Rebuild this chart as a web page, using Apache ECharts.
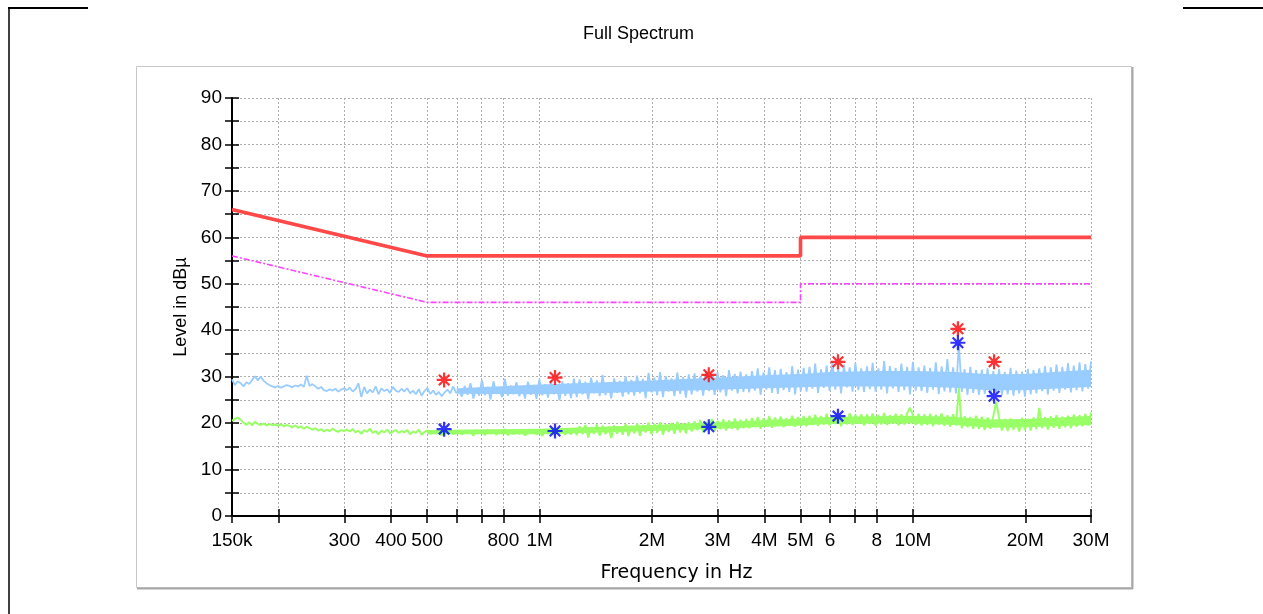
<!DOCTYPE html>
<html>
<head>
<meta charset="utf-8">
<script src="https://cdn.jsdelivr.net/npm/echarts@6/dist/echarts.min.js"></script>
<style>
html,body{margin:0;padding:0;background:#fff;}
#chart{width:1263px;height:614px;}
</style>
</head>
<body>
<div id="chart"></div>
<script>
// ---------- axis ticks ----------
const tickFreqs = [150e3,200e3,300e3,400e3,500e3,600e3,700e3,800e3,1e6,2e6,3e6,4e6,5e6,6e6,7e6,8e6,10e6,20e6,30e6];
const labelFreqs = [150e3,300e3,400e3,500e3,800e3,1e6,2e6,3e6,4e6,5e6,6e6,8e6,10e6,20e6,30e6];
const labelTexts = ['150k','300','400','500','800','1M','2M','3M','4M','5M','6','8','10M','20M','30M'];

// ---------- limit lines ----------
const qpLimitFreqs = [150e3, 500e3, 5e6, 5e6, 30e6];
const qpLimitLevels = [66, 56, 56, 60, 60];
const avLimitFreqs = [150e3, 500e3, 5e6, 5e6, 30e6];
const avLimitLevels = [56, 46, 46, 50, 50];

// ---------- sweep (300 points, 150 kHz .. 30 MHz) ----------
const sweepStart = 150e3, sweepStop = 30e6, sweepPoints = 300;

const peakLevels = [
 29.4,28.2,29.0,28.6,27.9,28.8,28.4,29.3,30.1,29.2,30.0,29.1,28.6,28.2,27.9,27.7,28.0,27.6,27.9,28.2,
 28.0,27.7,28.1,27.9,28.3,27.8,30.2,28.0,28.4,27.9,27.4,27.8,27.1,26.9,27.3,27.0,27.4,26.8,27.2,27.5,
 27.1,27.6,26.8,27.3,28.6,25.6,27.8,26.4,27.2,26.6,27.9,26.2,27.5,26.9,27.3,26.5,27.8,27.0,26.7,27.4,
 26.8,27.5,26.4,27.0,26.2,27.3,25.9,26.9,27.6,26.3,27.0,26.1,26.7,25.8,26.6,27.2,26.4,27.9,26.5,27.0,
 25.7,28.0,26.1,28.6,25.3,27.5,25.9,29.3,26.0,27.8,25.1,29.0,26.3,27.3,25.6,29.5,25.9,28.1,26.2,28.8,
 25.8,27.9,25.3,28.9,26.1,28.2,25.2,29.4,26.0,28.4,25.5,29.2,26.2,28.0,24.9,29.0,25.9,28.6,25.4,29.6,
 25.6,29.4,26.2,28.9,25.1,29.8,26.4,29.2,25.8,30.4,26.0,28.8,25.3,29.6,26.5,29.1,25.7,30.1,26.2,29.3,
 25.9,30.2,26.4,29.5,25.4,30.8,26.6,29.8,26.0,31.0,25.6,30.1,26.8,29.6,25.8,30.9,26.3,29.9,25.5,30.5,
 26.2,30.7,26.8,30.0,25.9,31.2,26.9,30.4,26.1,31.0,26.6,30.3,25.8,31.4,27.0,30.6,26.4,31.1,26.7,30.5,
 26.6,31.2,27.0,31.8,26.1,30.9,27.2,32.0,26.5,31.4,26.3,31.7,27.1,31.0,26.7,32.3,26.2,31.5,26.9,31.9,
 26.8,32.1,27.4,32.8,26.5,31.6,27.6,32.4,26.9,33.2,27.2,31.9,26.4,32.6,27.7,32.0,26.8,32.9,27.1,31.8,
 26.7,32.2,27.3,33.0,26.8,31.8,27.2,33.4,26.4,32.3,27.5,31.9,26.7,32.8,27.1,32.1,26.2,33.2,27.0,32.0,
 26.9,32.4,26.5,31.9,27.2,33.1,26.3,32.2,26.8,33.8,26.6,32.0,26.4,37.1,26.7,31.6,26.1,32.1,26.5,31.4,
 26.1,31.5,26.3,31.8,25.8,31.2,26.5,31.6,26.0,31.0,26.2,31.9,25.9,31.3,26.4,31.1,25.7,31.7,26.2,31.4,
 26.4,31.8,26.9,32.3,26.2,32.0,27.0,32.6,26.5,32.1,27.2,32.9,26.6,32.4,27.1,33.1,26.8,32.7,27.4,33.3
];

const avgLevels = [
 20.5,20.9,21.2,20.7,20.1,19.6,20.2,19.5,20.3,19.8,19.6,19.9,19.5,19.8,19.6,19.7,19.4,19.8,19.3,19.6,
 19.4,19.1,19.5,19.0,19.3,18.8,19.2,18.9,18.6,18.9,18.4,18.7,18.2,18.6,18.3,18.8,18.4,18.1,18.5,18.3,
 18.6,18.2,18.7,18.0,18.4,17.7,18.5,18.1,18.8,17.9,18.3,17.6,18.4,18.0,18.6,17.8,18.2,18.5,17.9,18.3,
 18.0,18.5,17.6,18.2,17.9,18.6,17.5,18.1,18.4,17.7,18.3,17.8,18.0,17.4,18.2,17.9,18.5,17.6,18.1,18.3,
 17.5,18.4,17.8,18.2,17.3,18.5,17.9,18.1,17.4,18.6,17.7,18.3,17.5,18.2,17.8,18.7,17.4,18.0,17.6,18.4,
 17.6,18.5,17.3,18.2,17.8,18.6,17.5,18.3,17.2,18.4,17.7,18.6,17.4,18.1,17.8,18.5,17.5,18.3,17.6,18.7,
 17.4,19.3,17.6,19.6,16.9,19.1,17.7,19.7,17.3,19.4,17.6,19.2,16.8,19.5,17.7,19.3,17.5,19.8,17.2,19.4,
 17.8,19.9,17.3,19.6,18.0,20.1,17.6,19.8,17.9,20.2,17.5,19.7,18.1,20.0,17.7,20.3,18.0,19.9,17.8,20.2,
 18.2,20.4,18.5,20.7,18.0,20.3,18.6,20.9,18.3,20.5,18.7,20.8,18.4,20.6,18.8,21.0,18.5,20.7,18.9,20.9,
 18.9,21.1,19.2,21.3,18.8,21.0,19.3,21.5,19.0,21.2,19.4,21.4,19.1,21.1,19.5,21.6,19.2,21.3,19.4,21.5,
 19.3,21.6,19.6,21.8,19.4,21.5,19.7,22.0,19.5,21.7,19.8,21.9,19.3,21.6,19.7,22.1,19.6,21.8,19.9,21.9,
 19.5,21.9,19.8,22.1,19.4,21.8,19.7,22.2,19.6,21.7,19.9,22.0,19.5,21.9,19.7,22.1,23.3,21.8,19.6,22.0,
 19.5,21.9,19.6,22.0,19.3,21.8,19.7,22.1,19.4,21.7,19.2,21.9,19.5,27.6,18.9,21.5,19.1,21.3,18.8,21.6,
 18.7,21.4,18.5,21.2,18.8,21.5,24.6,21.1,18.4,20.9,18.3,21.0,18.6,20.8,18.2,21.1,18.5,20.9,18.4,21.2,
 18.7,23.3,18.9,21.3,18.6,21.5,19.0,21.7,18.8,21.4,19.1,21.6,18.9,21.8,19.2,21.7,19.3,22.0,19.5,22.3
];

// dense-region envelopes (solid core of the traces)
const peakBandFreqs = [600e3, 1e6, 1.5e6, 2e6, 3e6, 4e6, 5e6, 6e6, 8e6, 10e6, 13e6, 16e6, 20e6, 25e6, 30e6];
const peakBandLow   = [26.3, 26.2, 26.5, 26.8, 27.2, 27.5, 27.7, 27.9, 27.9, 27.9, 27.6, 27.1, 27.1, 27.5, 27.8];
const peakBandHigh  = [27.5, 28.3, 28.8, 29.2, 29.8, 30.3, 30.6, 31.0, 31.2, 31.2, 31.0, 30.5, 30.6, 31.1, 31.5];
const avgBandFreqs = [500e3, 1e6, 2e6, 3e6, 5e6, 6e6, 8e6, 10e6, 13e6, 16e6, 20e6, 25e6, 30e6];
const avgBandLow   = [17.6, 17.6, 18.3, 18.8, 19.5, 19.8, 19.9, 19.9, 19.6, 19.0, 19.1, 19.4, 19.6];
const avgBandHigh  = [18.5, 18.8, 19.6, 20.2, 21.0, 21.3, 21.5, 21.6, 21.3, 20.8, 20.9, 21.2, 21.6];

// ---------- final measurement results ----------
const qpFreqs  = [555e3, 1.10e6, 2.84e6, 6.30e6, 13.2e6, 16.5e6];
const qpLevels = [29.3, 29.8, 30.4, 33.2, 40.3, 33.2];
const avFreqs  = [555e3, 1.10e6, 2.84e6, 6.30e6, 13.2e6, 16.5e6];
const avLevels = [18.7, 18.3, 19.2, 21.5, 37.3, 25.8];

// ---------- build ----------
const L = Math.log10;
const sweepFreqs = Array.from({length: sweepPoints}, (_, i) => sweepStart * Math.pow(sweepStop / sweepStart, i / (sweepPoints - 1)));
const pts = (fs, vs) => fs.map((f, i) => [L(f), vs[i]]);

const FONT = 'Liberation Sans, Arial, sans-serif';
const gridColor = '#b0b0b0';

function bandSeries(freqs, low, high, color) {
  return {
    type: 'custom', z: 2, silent: true,
    data: [[L(freqs[0]), low[0]]],
    renderItem: function (params, api) {
      const up = freqs.map((f, i) => api.coord([L(f), high[i]]));
      const dn = freqs.map((f, i) => api.coord([L(f), low[i]])).reverse();
      return { type: 'polygon', shape: { points: up.concat(dn) }, style: { fill: color } };
    }
  };
}

const starPath = 'path://M0,-10L0,10M-10,0L10,0M-7,-7L7,7M-7,7L7,-7';

const xBase = { type: 'value', min: L(sweepStart), max: L(sweepStop), gridIndex: 0 };

const option = {
  animation: false,
  backgroundColor: '#fff',
  title: {
    text: 'Full Spectrum', left: 578, top: 20,
    textStyle: { fontFamily: FONT, fontSize: 18, fontWeight: 'normal', color: '#000' }
  },
  grid: { left: 232, right: 172, top: 98, bottom: 98, containLabel: false, outerBoundsMode: 'none' },
  graphic: [
    { type: 'rect', shape: { x: 136.5, y: 66.5, width: 995, height: 521 }, style: { fill: 'none', stroke: '#c8c8c8', lineWidth: 1 }, z: -1 },
    { type: 'line', shape: { x1: 137, y1: 588.5, x2: 1133, y2: 588.5 }, style: { stroke: '#a8a8a8', lineWidth: 2 }, z: -1 },
    { type: 'line', shape: { x1: 1132.5, y1: 67, x2: 1132.5, y2: 589 }, style: { stroke: '#a8a8a8', lineWidth: 2 }, z: -1 },
    { type: 'line', shape: { x1: 8, y1: 8, x2: 88, y2: 8 }, style: { stroke: '#000', lineWidth: 2 } },
    { type: 'line', shape: { x1: 1183, y1: 8, x2: 1263, y2: 8 }, style: { stroke: '#000', lineWidth: 2 } },
    { type: 'line', shape: { x1: 9, y1: 8, x2: 9, y2: 614 }, style: { stroke: '#000', lineWidth: 1.5 } }
  ],
  xAxis: [
    Object.assign({}, xBase, {
      position: 'bottom',
      axisLine: { show: true, onZero: false, lineStyle: { color: '#000', width: 2 } },
      axisTick: { show: true, customValues: tickFreqs.map(L), length: 7, lineStyle: { color: '#000', width: 1.5 } },
      axisLabel: {
        show: true, customValues: labelFreqs.map(L), margin: 15,
        fontFamily: FONT, fontSize: 19, color: '#000',
        formatter: function (v) {
          let best = 0, d = 1e9;
          labelFreqs.forEach((f, i) => { const dd = Math.abs(L(f) - v); if (dd < d) { d = dd; best = i; } });
          return labelTexts[best];
        }
      },
      splitLine: { show: true, lineStyle: { color: gridColor, width: 1, type: [2, 2] } },
      name: 'Frequency in Hz', nameLocation: 'middle', nameGap: 48,
      nameTextStyle: { fontFamily: 'DejaVu Sans, sans-serif', fontSize: 19, color: '#000', padding: [0, 0, 0, 30] }
    }),
    Object.assign({}, xBase, {
      position: 'bottom',
      axisLine: { show: false, onZero: false },
      axisTick: { show: true, inside: true, customValues: tickFreqs.map(L), length: 7, lineStyle: { color: '#000', width: 1.5 } },
      axisLabel: { show: false },
      splitLine: { show: false }
    })
  ],
  yAxis: [
    {
      type: 'value', min: 0, max: 90, interval: 5, position: 'left',
      axisLine: { show: true, onZero: false, lineStyle: { color: '#000', width: 2 } },
      axisTick: { show: true, length: 7, lineStyle: { color: '#000', width: 1.5 } },
      axisLabel: {
        margin: 10, fontFamily: FONT, fontSize: 19, color: '#000',
        formatter: function (v) { return (Math.round(v) % 10 === 0) ? String(Math.round(v)) : ''; }
      },
      splitLine: { show: true, lineStyle: { color: gridColor, width: 1, type: [2, 2] } },
      name: 'Level in dBµ', nameLocation: 'middle', nameGap: 42, nameRotate: 90,
      nameTextStyle: { fontFamily: FONT, fontSize: 18, color: '#000' }
    },
    {
      type: 'value', min: 0, max: 90, interval: 5, position: 'left',
      axisLine: { show: false, onZero: false },
      axisTick: { show: true, inside: true, length: 7, lineStyle: { color: '#000', width: 1.5 } },
      axisLabel: { show: false },
      splitLine: { show: false }
    }
  ],
  series: [
    bandSeries(avgBandFreqs, avgBandLow, avgBandHigh, '#99ff66'),
    {
      name: 'AV trace', type: 'line', data: pts(sweepFreqs, avgLevels), z: 3,
      showSymbol: false, symbol: 'none', silent: true,
      lineStyle: { color: '#99ff66', width: 2 }
    },
    bandSeries(peakBandFreqs, peakBandLow, peakBandHigh, '#99ccff'),
    {
      name: 'Peak trace', type: 'line', data: pts(sweepFreqs, peakLevels), z: 3,
      showSymbol: false, symbol: 'none', silent: true,
      lineStyle: { color: '#99ccff', width: 1.8 }
    },
    {
      name: 'QP limit', type: 'line', data: pts(qpLimitFreqs, qpLimitLevels), z: 4,
      showSymbol: false, symbol: 'none', silent: true,
      lineStyle: { color: '#ff4848', width: 3.6 }
    },
    {
      name: 'AV limit', type: 'line', data: pts(avLimitFreqs, avLimitLevels), z: 4,
      showSymbol: false, symbol: 'none', silent: true,
      lineStyle: { color: '#ff44ff', width: 1.6, type: [6, 2, 2, 2] }
    },
    {
      name: 'QP final', type: 'scatter', data: pts(qpFreqs, qpLevels), z: 6,
      symbol: starPath, symbolSize: 15, silent: true,
      itemStyle: { color: 'rgba(0,0,0,0)', borderColor: '#ff0000', borderWidth: 2.2 }
    },
    {
      name: 'AV final', type: 'scatter', data: pts(avFreqs, avLevels), z: 6,
      symbol: starPath, symbolSize: 15, silent: true,
      itemStyle: { color: 'rgba(0,0,0,0)', borderColor: '#0000ff', borderWidth: 2.2 }
    }
  ]
};

const chart = echarts.init(document.getElementById('chart'), null, { renderer: 'canvas' });
chart.setOption(option);
</script>
</body>
</html>
